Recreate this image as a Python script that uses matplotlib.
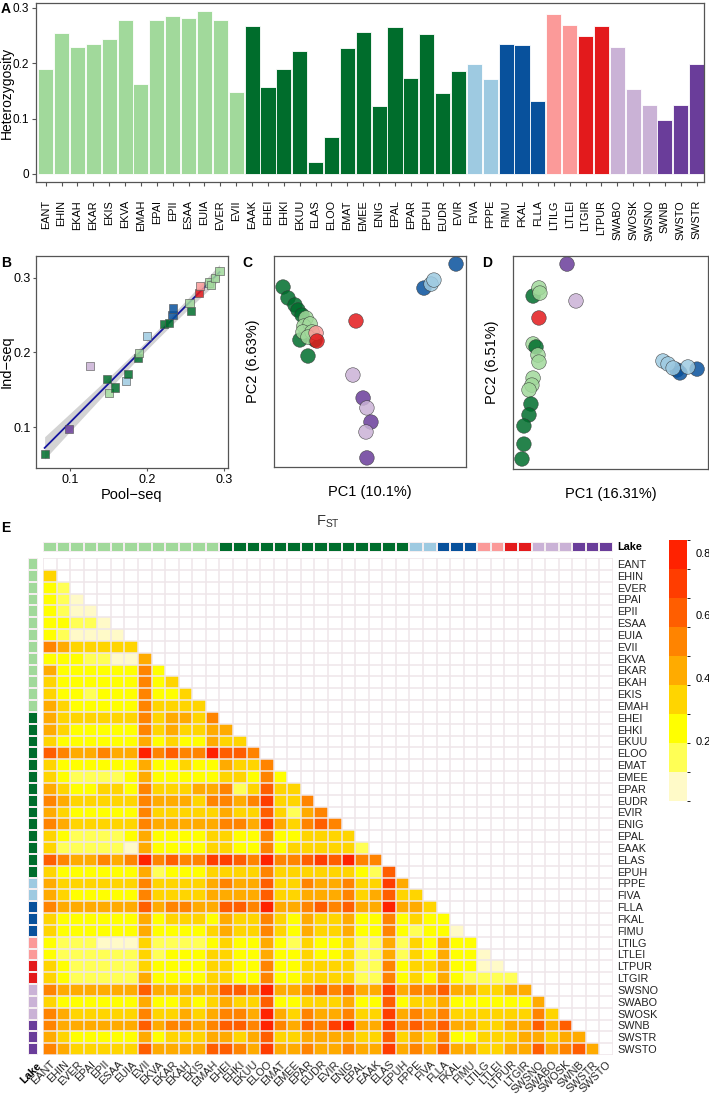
import numpy as np
import matplotlib.pyplot as plt
from matplotlib.colors import ListedColormap, BoundaryNorm
import matplotlib.colorbar as mcolorbar

plt.rcParams['font.family'] = ['Liberation Sans', 'DejaVu Sans']
plt.rcParams['mathtext.fontset'] = 'custom'
plt.rcParams['mathtext.rm'] = 'Liberation Sans'
plt.rcParams['mathtext.default'] = 'regular'

W, H = 709, 1094

group_colors = {
    'EL': '#a1d99b', 'ED': '#006d2c', 'FL': '#9ecae1', 'FD': '#08519c',
    'LL': '#fb9a99', 'LD': '#e31a1c', 'SL': '#cab2d6', 'SD': '#6a3d9a',
}

# ---- A: heterozygosity per lake (pool-seq)
het_pops = ['EANT', 'EHIN', 'EKAH', 'EKAR', 'EKIS', 'EKVA', 'EMAH', 'EPAI', 'EPII',
            'ESAA', 'EUIA', 'EVER', 'EVII',
            'EAAK', 'EHEI', 'EHKI', 'EKUU', 'ELAS', 'ELOO', 'EMAT', 'EMEE', 'ENIG',
            'EPAL', 'EPAR', 'EPUH', 'EUDR', 'EVIR',
            'FIVA', 'FPPE', 'FIMU', 'FKAL', 'FLLA', 'LTILG', 'LTLEI', 'LTGIR', 'LTPUR',
            'SWABO', 'SWOSK', 'SWSNO', 'SWNB', 'SWSTO', 'SWSTR']
het_groups = (['EL'] * 13 + ['ED'] * 14 + ['FL'] * 2 + ['FD'] * 3 + ['LL'] * 2
              + ['LD'] * 2 + ['SL'] * 3 + ['SD'] * 3)
het_values = [0.190, 0.255, 0.230, 0.234, 0.244, 0.278, 0.162, 0.279, 0.286,
              0.282, 0.294, 0.279, 0.149,
              0.268, 0.157, 0.189, 0.222, 0.022, 0.066, 0.227, 0.257, 0.122,
              0.266, 0.174, 0.253, 0.147, 0.187,
              0.199, 0.172, 0.234, 0.233, 0.131, 0.290, 0.269, 0.250, 0.267,
              0.230, 0.153, 0.125, 0.098, 0.125, 0.199]

# ---- B: pool-seq vs ind-seq heterozygosity
pool_het = [0.067, 0.099, 0.126, 0.148, 0.150, 0.158, 0.173, 0.175, 0.188, 0.190,
            0.200, 0.222, 0.228, 0.233, 0.234, 0.257, 0.255, 0.267, 0.269, 0.280,
            0.283, 0.288, 0.294]
ind_het = [0.064, 0.097, 0.182, 0.164, 0.146, 0.153, 0.162, 0.171, 0.193, 0.199,
           0.222, 0.238, 0.240, 0.250, 0.259, 0.256, 0.266, 0.280, 0.289, 0.294,
           0.291, 0.300, 0.309]
b_groups = ['ED', 'SD', 'SL', 'ED', 'EL', 'ED', 'FL', 'ED', 'ED', 'EL', 'FL', 'ED',
            'ED', 'FD', 'FD', 'ED', 'EL', 'LD', 'LL', 'EL', 'EL', 'EL', 'EL']

# ---- C: PCA pool-seq (scaled scores)
c_pc1 = [0.047, 0.073, 0.109, 0.125, 0.146, 0.135, 0.214, 0.177,
         0.167, 0.156, 0.188, 0.151, 0.198, 0.177,
         0.219, 0.224, 0.427,
         0.411, 0.464, 0.484, 0.505, 0.479, 0.484,
         0.781, 0.818, 0.833, 0.948]
c_pc2 = [0.853, 0.801, 0.768, 0.744, 0.720, 0.602, 0.602, 0.526,
         0.706, 0.668, 0.678, 0.640, 0.640, 0.616,
         0.635, 0.597, 0.692,
         0.436, 0.327, 0.280, 0.213, 0.166, 0.043,
         0.848, 0.867, 0.886, 0.962]
c_groups = ['ED'] * 8 + ['EL'] * 6 + ['LL', 'LD', 'LD'] + ['SL', 'SD', 'SL', 'SD', 'SL', 'SD'] \
    + ['FD', 'FL', 'FL', 'FD']

# ---- D: PCA ind-seq (scaled scores)
d_pc1 = [0.277, 0.323, 0.103, 0.133, 0.138, 0.133,
         0.103, 0.118, 0.128, 0.133, 0.103, 0.097, 0.082,
         0.092, 0.082, 0.056, 0.056, 0.046,
         0.841, 0.856, 0.944, 0.769, 0.795, 0.821, 0.897]
d_pc2 = [0.962, 0.789, 0.812, 0.850, 0.826, 0.709,
         0.587, 0.573, 0.535, 0.502, 0.427, 0.394, 0.371,
         0.305, 0.254, 0.202, 0.117, 0.047,
         0.465, 0.451, 0.469, 0.507, 0.493, 0.474, 0.479]
d_groups = ['SD', 'SL', 'ED', 'EL', 'EL', 'LD',
            'EL', 'ED', 'EL', 'EL', 'EL', 'EL', 'EL',
            'ED', 'ED', 'ED', 'ED', 'ED',
            'FD', 'FD', 'FD', 'FL', 'FL', 'FL', 'FL']

# ---- E: pairwise FST (colour class 0-8 per cell, lower triangle)
fst_pops = ['EANT', 'EHIN', 'EVER', 'EPAI', 'EPII', 'ESAA', 'EUIA', 'EVII', 'EKVA',
            'EKAR', 'EKAH', 'EKIS', 'EMAH',
            'EHEI', 'EHKI', 'EKUU', 'ELOO', 'EMAT', 'EMEE', 'EPAR', 'EUDR', 'EVIR',
            'ENIG', 'EPAL', 'EAAK', 'ELAS', 'EPUH',
            'FPPE', 'FIVA', 'FLLA', 'FKAL', 'FIMU', 'LTILG', 'LTLEI', 'LTPUR', 'LTGIR',
            'SWSNO', 'SWABO', 'SWOSK', 'SWNB', 'SWSTR', 'SWSTO']
fst_groups = (['EL'] * 13 + ['ED'] * 14 + ['FL'] * 2 + ['FD'] * 3 + ['LL'] * 2
              + ['LD'] * 2 + ['SL'] * 3 + ['SD'] * 3)
fst_rows = [
    "",
    "3",
    "21",
    "210",
    "2100",
    "22110",
    "210000",
    "5433333",
    "2221100 4",
    "4222222 52",
    "3222222 523",
    "3221222 5223",
    "4322222 53333",
    "4333333 534435",
    "4322222 5343344",
    "3222222 4232243 3",
    "6544544 8565586 65",
    "3222222 4223224 335",
    "3211112 4222223 3252",
    "4322332 5333445 13633",
    "5433333 5444355 457335",
    "4322222 5333334 3363145",
    "5433333 5444445 5474356 5",
    "3211112 4222233 2252233 33",
    "3111110 4222233 2252333 331",
    "6544545 8565577 6585567 6855",
    "3222222 4122233 3353333 33216",
    "4333333 5333345 4463354 453374",
    "4322222 5333344 4463344 4534633",
    "5444444 6455446 6584456 5644844 3",
    "3222222 4233324 3353243 3422523 22",
    "3222222 4222234 3353243 3422521 220",
    "2111000 3111123 2242132 2311413 2422",
    "2111111 3122233 2242232 2311413 24220",
    "3211111 3222233 2252233 3311523 342200",
    "3211111 4222233 2252233 3311523 2421111",
    "5444444 6444446 6584456 5644745 5644334 4",
    "3222222 4223234 3362233 3422623 3422222 24",
    "5433333 5334345 5484354 4533745 4533333 353",
    "5444444 6455456 6585465 7844756 5644334 4646",
    "4322222 4233344 3463344 4433634 3522333 44344",
    "5433333 6444466 5474454 4544745 4644334 464564",
]
fst_bounds = np.linspace(0.01, 0.84, 10)
fst_colors = ['#fffac8', '#ffff55', '#ffff00', '#ffd500', '#ffab00',
              '#ff8400', '#ff5e00', '#ff3d00', '#ff2200']


def px_axes(fig, l, t, r, b):
    return fig.add_axes([l / W, 1 - b / H, (r - l) / W, (b - t) / H])


def box(ax, color='#555555'):
    for s in ax.spines.values():
        s.set_color(color)
        s.set_linewidth(0.9)


fig = plt.figure(figsize=(W / 100, H / 100), dpi=100)

# ------------------------------------------------ A
ax = px_axes(fig, 36, 3, 704, 182)
x = np.arange(len(het_pops))
ax.bar(x, het_values, width=0.95, color=[group_colors[g] for g in het_groups],
       edgecolor='white', linewidth=0.6)
ax.set_xlim(-0.61, len(het_pops) - 0.54)
ax.set_ylim(-0.0145, 0.309)
ax.set_yticks([0, 0.1, 0.2, 0.3])
ax.set_yticklabels(['0', '0.1', '0.2', '0.3'], fontsize=8.5)
ax.set_xticks(x)
ax.set_xticklabels(het_pops, rotation=90, fontsize=7.8)
ax.tick_params(axis='x', length=3, pad=10, color='#555555')
ax.tick_params(axis='y', length=3, pad=2, color='#555555')
ax.set_ylabel('Heterozygosity', fontsize=10)
ax.yaxis.set_label_coords((14 - 36) / 668, 0.5)
box(ax)

# ------------------------------------------------ B
ax = px_axes(fig, 36, 256, 228, 468)
px = np.array(pool_het)
py = np.array(ind_het)
coef = np.polyfit(px, py, 1)
xf = np.linspace(px.min(), px.max(), 100)
yf = np.polyval(coef, xf)
resid = py - np.polyval(coef, px)
n_b = len(px)
s_err = np.sqrt(np.sum(resid ** 2) / (n_b - 2))
se = s_err * np.sqrt(1 / n_b + (xf - px.mean()) ** 2 / np.sum((px - px.mean()) ** 2))
ax.fill_between(xf, yf - 2.07 * se, yf + 2.07 * se, color='#c8c8c8', alpha=0.8, lw=0)
ax.plot(xf, yf, color='#1515a0', lw=1.3)
ax.scatter(px, py, marker='s', s=34, c=[group_colors[g] for g in b_groups],
           edgecolors='#555555', linewidths=0.5, alpha=0.85, zorder=3)
ax.set_xlim(0.0558, 0.305)
ax.set_ylim(0.045, 0.3295)
ax.set_xticks([0.1, 0.2, 0.3])
ax.set_yticks([0.1, 0.2, 0.3])
ax.set_xticklabels(['0.1', '0.2', '0.3'], fontsize=9)
ax.set_yticklabels(['0.1', '0.2', '0.3'], fontsize=9)
ax.tick_params(length=2.5, pad=1.5, color='#555555')
ax.set_xlabel('Pool\u2212seq', fontsize=10.5, labelpad=2)
ax.set_ylabel('Ind\u2212seq', fontsize=10.5)
ax.yaxis.set_label_coords((14 - 36) / 192, 0.5)
box(ax)

# ------------------------------------------------ C
ax = px_axes(fig, 274, 256, 466, 467)
ax.scatter(c_pc1, c_pc2, s=110, c=[group_colors[g] for g in c_groups],
           edgecolors='#333333', linewidths=0.4, alpha=0.85, clip_on=False)
ax.set_xlim(0, 1)
ax.set_ylim(0, 1)
ax.set_xticks([])
ax.set_yticks([])
ax.set_xlabel('PC1 (10.1%)', fontsize=10.5, labelpad=13)
ax.set_ylabel('PC2 (6.63%)', fontsize=10.5, labelpad=10)
box(ax)

# ------------------------------------------------ D
ax = px_axes(fig, 513, 256, 708, 469)
ax.scatter(d_pc1, d_pc2, s=110, c=[group_colors[g] for g in d_groups],
           edgecolors='#333333', linewidths=0.4, alpha=0.85, clip_on=False)
ax.set_xlim(0, 1)
ax.set_ylim(0, 1)
ax.set_xticks([])
ax.set_yticks([])
ax.set_xlabel('PC1 (16.31%)', fontsize=10.5, labelpad=13)
ax.set_ylabel('PC2 (6.51%)', fontsize=10.5, labelpad=10)
box(ax)

# ------------------------------------------------ E
n = len(fst_pops)
centers = (fst_bounds[:-1] + fst_bounds[1:]) / 2
M = np.full((n, n), np.nan)
for i, row in enumerate(fst_rows):
    digits = row.replace(' ', '')
    for j, ch in enumerate(digits):
        M[i, j] = centers[int(ch)]

cmap = ListedColormap(fst_colors)
norm = BoundaryNorm(fst_bounds, cmap.N)
gridc = '#efe6e9'

ax = px_axes(fig, 43, 558, 613, 1055)
ax.pcolormesh(np.arange(n + 1), np.arange(n + 1), np.ma.masked_invalid(M),
              cmap=cmap, norm=norm)
for k in range(n + 1):
    ax.axhline(k, color=gridc, lw=1.1, zorder=3)
    ax.axvline(k, color=gridc, lw=1.1, zorder=3)
ax.set_xlim(0, n)
ax.set_ylim(n, 0)
for s in ax.spines.values():
    s.set_visible(False)
ax.set_xticks(np.arange(n) + 0.5)
ax.set_xticklabels(fst_pops, rotation=45, ha='right', rotation_mode='anchor',
                   fontsize=7.8, color='#222222')
ax.set_yticks(np.arange(n) + 0.5)
ax.set_yticklabels(fst_pops, fontsize=7.8, color='#222222')
ax.yaxis.tick_right()
ax.tick_params(length=0, pad=3)

# annotation strips
strip_cmap = ListedColormap([group_colors[g] for g in fst_groups])
idx = np.arange(n)[None, :]
ax_top = px_axes(fig, 43, 542, 613, 552)
ax_top.pcolormesh(np.arange(n + 1), [0, 1], idx, cmap=strip_cmap,
                  edgecolors='#f4eef0', linewidth=1.2)
ax_top.set_axis_off()
ax_left = px_axes(fig, 28, 558, 38, 1055)
ax_left.pcolormesh([0, 1], np.arange(n + 1), idx.T, cmap=strip_cmap,
                   edgecolors='#f4eef0', linewidth=1.2)
ax_left.set_ylim(n, 0)
ax_left.set_axis_off()

fig.text(617 / W, 1 - 547 / H, 'Lake', fontsize=7.8, fontweight='bold',
         ha='left', va='center')
fig.text(36 / W, 1 - 1061 / H, 'Lake', fontsize=7.8, fontweight='bold',
         rotation=45, ha='right', va='top', rotation_mode='anchor')
fig.text(328 / W, 1 - 522 / H, 'F$_{ST}$', fontsize=10.5, ha='center',
         va='center', color='#333333')

# colour key
cax = px_axes(fig, 669, 540, 687, 801)
cb = mcolorbar.ColorbarBase(cax, cmap=cmap, norm=norm, spacing='proportional',
                            ticks=[0.2, 0.4, 0.6, 0.8])
cb.outline.set_visible(False)
cax.tick_params(length=0, pad=6, labelsize=8)
cax.set_yticklabels(['0.2', '0.4', '0.6', '0.8'])

# panel letters
for lab, (lx, ly) in {'A': (6, 9), 'B': (6, 263), 'C': (247, 263),
                      'D': (487, 263), 'E': (6, 528)}.items():
    fig.text(lx / W, 1 - ly / H, lab, fontsize=10, fontweight='bold',
             ha='center', va='center')

fig.savefig('out.png', dpi=100)
